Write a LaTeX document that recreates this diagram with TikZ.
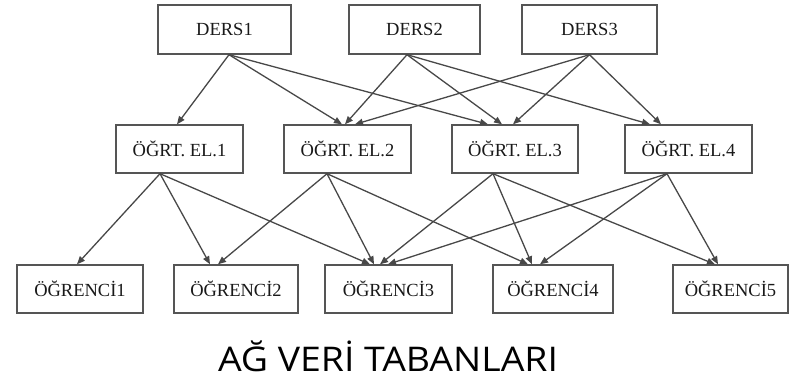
\documentclass[tikz,border=0pt]{standalone}
\usepackage{fontspec}
\setmainfont{Liberation Serif}
\newfontfamily\titlefont[FakeStretch=1.1]{Open Sans}
\usetikzlibrary{arrows.meta}
\definecolor{linegray}{HTML}{484848}
\definecolor{boxgray}{HTML}{555555}
\tikzset{
  box/.style={draw=boxgray, line width=1.4pt, rectangle, inner sep=0pt,
    minimum height=48pt, font=\fontsize{18.5}{20}\selectfont, text=black!90},
  arr/.style={draw=linegray, line width=1.3pt, -{Triangle[length=8pt,width=6.5pt]}},
}
\begin{document}
\begin{tikzpicture}[x=1pt,y=-1pt]
\useasboundingbox (0,0) rectangle (790,378);
% top row
\node[box, minimum width=133pt, minimum height=49pt] (d1) at (224.5,29.5) {DERS1};
\node[box, minimum width=131pt, minimum height=49pt] (d2) at (414.5,29.5) {DERS2};
\node[box, minimum width=135pt, minimum height=49pt] (d3) at (589.5,29.5) {DERS3};
% middle row
\node[box, minimum width=127pt] (o1) at (179.5,149) {ÖĞRT. EL.1};
\node[box, minimum width=127pt] (o2) at (347.5,149) {ÖĞRT. EL.2};
\node[box, minimum width=126pt] (o3) at (515,149) {ÖĞRT. EL.3};
\node[box, minimum width=127pt] (o4) at (688.5,149) {ÖĞRT. EL.4};
% bottom row
\node[box, minimum width=126pt] (s1) at (80,289) {ÖĞRENCİ1};
\node[box, minimum width=124pt] (s2) at (236,289) {ÖĞRENCİ2};
\node[box, minimum width=127pt] (s3) at (388.5,289) {ÖĞRENCİ3};
\node[box, minimum width=120pt] (s4) at (553,289) {ÖĞRENCİ4};
\node[box, minimum width=115pt] (s5) at (730.5,289) {ÖĞRENCİ5};
% top -> middle
\draw[arr] ([xshift=4.5pt]d1.south) -- ([xshift=-2.5pt]o1.north);
\draw[arr] ([xshift=4.5pt]d1.south) -- ([xshift=-5.5pt]o2.north);
\draw[arr] ([xshift=4.5pt]d1.south) -- ([xshift=-27pt]o3.north);
\draw[arr] ([xshift=-7.5pt]d2.south) -- ([xshift=-2.5pt]o2.north);
\draw[arr] ([xshift=-7.5pt]d2.south) -- ([xshift=-13pt]o3.north);
\draw[arr] ([xshift=-7.5pt]d2.south) -- ([xshift=-38.5pt]o4.north);
\draw[arr] (d3.south) -- ([xshift=7.5pt]o2.north);
\draw[arr] (d3.south) -- ([xshift=-2pt]o3.north);
\draw[arr] (d3.south) -- ([xshift=-27.5pt]o4.north);
% middle -> bottom
\draw[arr] ([xshift=-19.5pt]o1.south) -- ([xshift=-3pt]s1.north);
\draw[arr] ([xshift=-19.5pt]o1.south) -- ([xshift=-26pt]s2.north);
\draw[arr] ([xshift=-19.5pt]o1.south) -- ([xshift=-18.5pt]s3.north);
\draw[arr] ([xshift=-20.5pt]o2.south) -- ([xshift=-18pt]s2.north);
\draw[arr] ([xshift=-20.5pt]o2.south) -- ([xshift=-14.5pt]s3.north);
\draw[arr] ([xshift=-20.5pt]o2.south) -- ([xshift=-25pt]s4.north);
\draw[arr] ([xshift=-22pt]o3.south) -- ([xshift=-8.5pt]s3.north);
\draw[arr] ([xshift=-22pt]o3.south) -- ([xshift=-21pt]s4.north);
\draw[arr] ([xshift=-22pt]o3.south) -- ([xshift=-15.5pt]s5.north);
\draw[arr] ([xshift=-21.5pt]o4.south) -- ([xshift=-0.5pt]s3.north);
\draw[arr] ([xshift=-21.5pt]o4.south) -- ([xshift=-13pt]s4.north);
\draw[arr] ([xshift=-21.5pt]o4.south) -- ([xshift=-12.5pt]s5.north);
% title
\node[anchor=base, font=\titlefont\fontsize{34}{38}\selectfont, inner sep=0pt] (title) at (388,371) {AĞ VERİ TABANLARI};
\end{tikzpicture}
\end{document}
